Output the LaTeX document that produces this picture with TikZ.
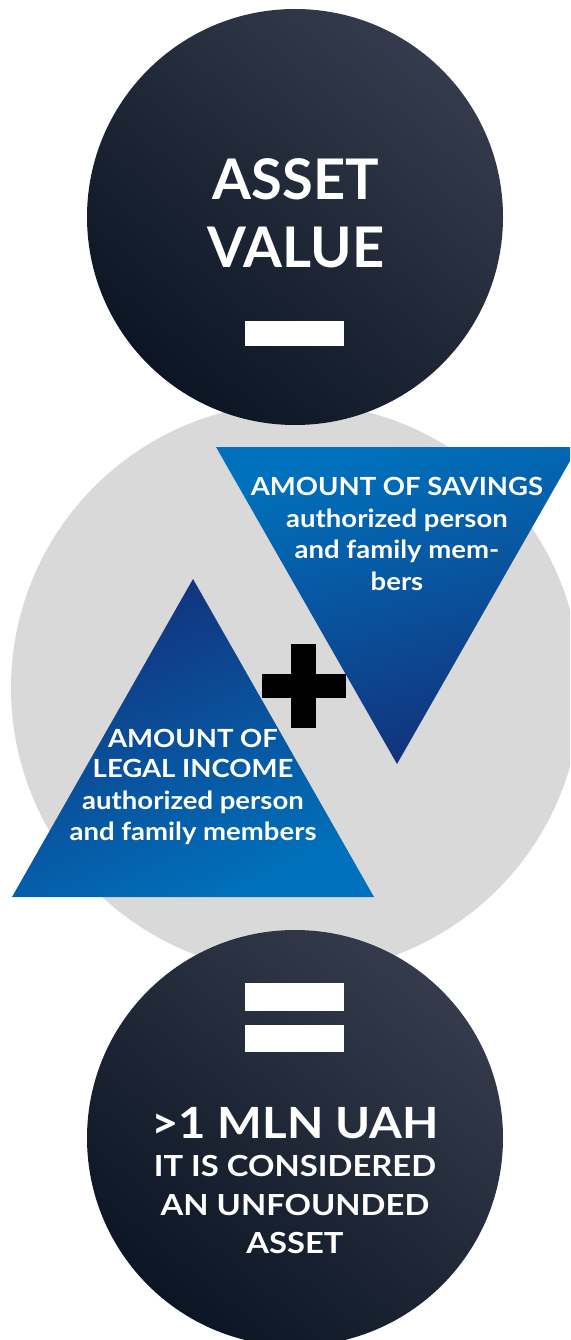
\documentclass[tikz,border=0pt]{standalone}
\usepackage{fontspec}
\setmainfont{Lato}
\newfontfamily\widefont[FakeStretch=1.1]{Lato}
\newfontfamily\widerfont[FakeStretch=1.13]{Lato}
\definecolor{dkA}{HTML}{0B1523}
\definecolor{dkB}{HTML}{353B4C}
\definecolor{grayC}{HTML}{D9D9D9}
\definecolor{blA}{HTML}{0072BD}
\definecolor{blB}{HTML}{13307A}
\tikzset{
  darkball/.style={top color=dkB, bottom color=dkA, shading angle=-40},
  downtri/.style={top color=blA, bottom color=blB, shading angle=15},
  uptri/.style={top color=blB, bottom color=blA, shading angle=25},
  txt/.style={text=white, inner sep=0pt, anchor=base},
  big/.style={txt, font=\bfseries\fontsize{56}{60}\selectfont},
  head/.style={txt, font=\widefont\bfseries\fontsize{25}{30}\selectfont},
  sub/.style={txt, font=\widefont\bfseries\fontsize{25}{30}\selectfont},
  res/.style={txt, font=\widefont\bfseries\fontsize{43}{50}\selectfont},
  resb/.style={txt, font=\widerfont\bfseries\fontsize{29}{34}\selectfont}
}
\begin{document}
\begin{tikzpicture}[x=1pt,y=-1pt]
\useasboundingbox (0,0) rectangle (570,1340);
\begin{scope}
\clip (0,0) rectangle (570,1340);
\fill[grayC] (296,688) circle (285pt);
\shade[darkball] (295,217) circle (208pt);
\shade[darkball] (295,1138) circle (208pt);
\shade[downtri] (216,447) -- (578,447) -- (397,764) -- cycle;
\shade[uptri] (193,579) -- (374,897) -- (12,897) -- cycle;
\fill[black] (291,644) rectangle (316,728);
\fill[black] (262,674) rectangle (346,698);
\fill[white] (245,321) rectangle (344,346);
\fill[white] (245,983) rectangle (344,1011);
\fill[white] (245,1025) rectangle (344,1052);
\end{scope}
% top circle
\node[big] (a1) at (296,200) {ASSET};
\node[big] (a2) at (296,267) {VALUE};
% savings
\node[head] (s1) at (397,495) {AMOUNT OF SAVINGS};
\node[sub] (s2) at (397,527) {authorized person};
\node[sub] (s3) at (397,558) {and family mem-};
\node[sub] (s4) at (397,590) {bers};
% legal income
\node[head] (l1) at (193,747) {AMOUNT OF};
\node[head] (l2) at (193,777) {LEGAL INCOME};
\node[sub] (l3) at (193,809) {authorized person};
\node[sub] (l4) at (193,840) {and family members};
% result
\node[res] (r1) at (295,1138) {>1 MLN UAH};
\node[resb] (r2) at (295,1176) {IT IS CONSIDERED};
\node[resb] (r3) at (295,1215) {AN UNFOUNDED};
\node[resb] (r4) at (295,1253) {ASSET};
\end{tikzpicture}
\end{document}
